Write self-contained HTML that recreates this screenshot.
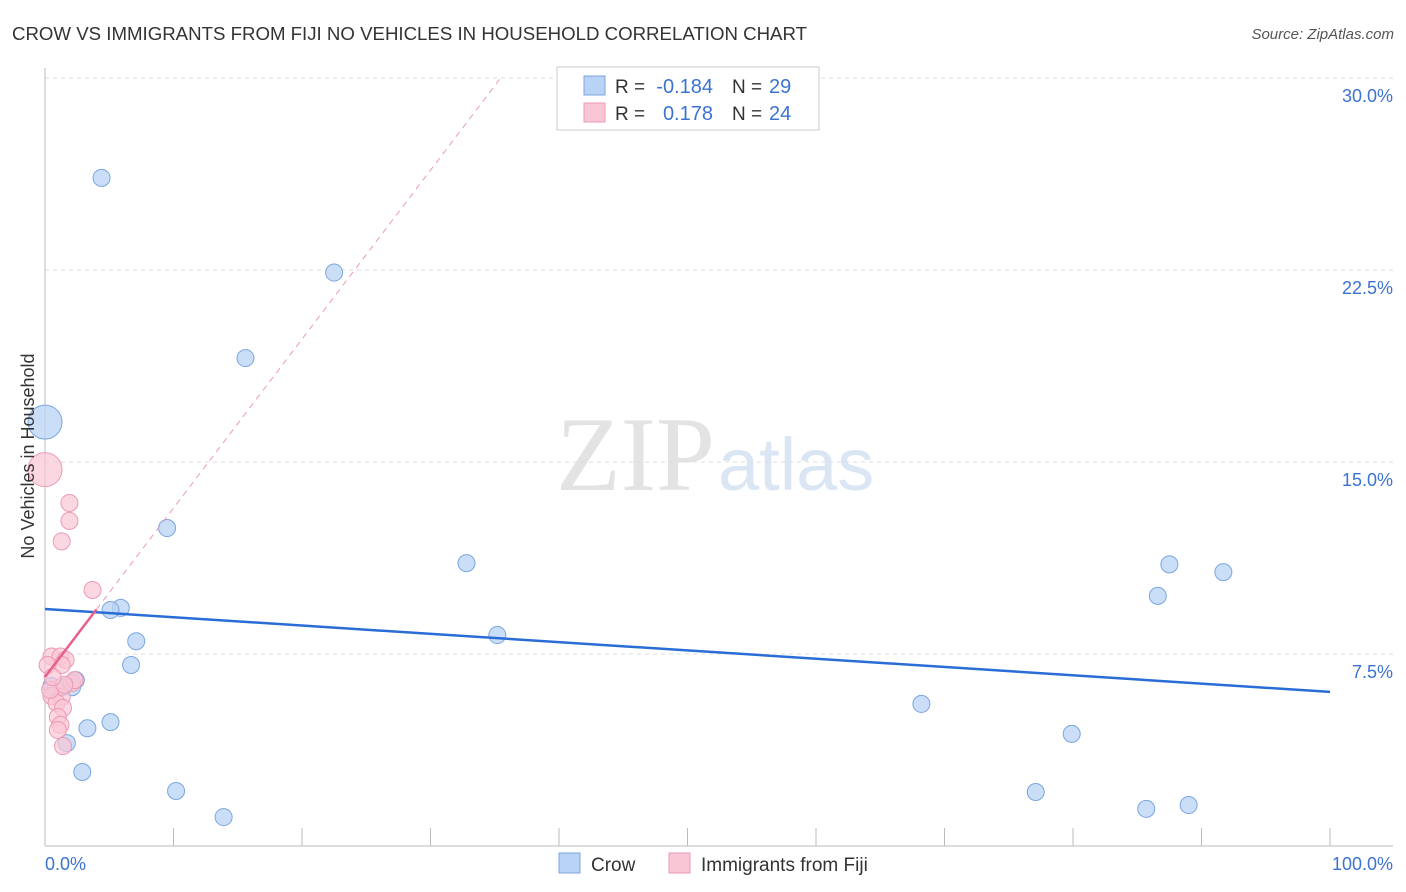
<!DOCTYPE html>
<html><head><meta charset="utf-8"><style>
body{margin:0;background:#fff;font-family:"Liberation Sans",sans-serif;}
svg{display:block}
</style></head><body>
<svg width="1406" height="892" id="chart">
<text x="12" y="40" font-size="18" fill="#333" textLength="795" lengthAdjust="spacingAndGlyphs">CROW VS IMMIGRANTS FROM FIJI NO VEHICLES IN HOUSEHOLD CORRELATION CHART</text>
<text x="1394" y="39" font-size="15" fill="#555" font-style="italic" text-anchor="end">Source: ZipAtlas.com</text>
<text x="715" y="490" font-size="106" fill="#e3e3e3" font-family="Liberation Serif,serif" text-anchor="end">ZIP</text>
<text x="718" y="490" font-size="74" fill="#dbe6f5">atlas</text>
<g id="grid"></g>
<g id="axes"></g>
<g id="marks"></g>
<text transform="translate(34,456) rotate(-90)" font-size="18" fill="#333" text-anchor="middle">No Vehicles in Household</text>
<text x="45" y="870" font-size="18" fill="#3b73d1">0.0%</text>
<text x="1393" y="870" font-size="18" fill="#3b73d1" text-anchor="end">100.0%</text>
<g>
<rect x="557" y="67" width="262" height="63" fill="#fff" stroke="#ccc"/>
<rect x="584" y="76" width="21" height="19" fill="#b8d3f5" stroke="#7aa6e0"/>
<rect x="584" y="103" width="21" height="19" fill="#f9c6d5" stroke="#ec9ab3"/>
<text x="615" y="93" font-size="19" fill="#333">R =</text>
<text x="713" y="93" font-size="20" fill="#3b73d1" text-anchor="end">-0.184</text>
<text x="732" y="93" font-size="19" fill="#333">N =</text>
<text x="769" y="93" font-size="20" fill="#3b73d1">29</text>
<text x="615" y="120" font-size="19" fill="#333">R =</text>
<text x="713" y="120" font-size="20" fill="#3b73d1" text-anchor="end">0.178</text>
<text x="732" y="120" font-size="19" fill="#333">N =</text>
<text x="769" y="120" font-size="20" fill="#3b73d1">24</text>
</g>
<g>
<rect x="559" y="853" width="21" height="20" fill="#b8d3f5" stroke="#7aa6e0"/>
<text x="591" y="871" font-size="19" fill="#333">Crow</text>
<rect x="669" y="853" width="21" height="20" fill="#f9c6d5" stroke="#ec9ab3"/>
<text x="701" y="871" font-size="19" fill="#333">Immigrants from Fiji</text>
</g>
</svg>
<script>
const yTicks=[7.5,15,22.5,30];
const yTickLabels=["7.5%","15.0%","22.5%","30.0%"];
const crowX=[4.4,22.5,15.6,0,9.5,32.8,5.9,5.1,7.1,35.2,6.7,2.4,2.1,3.3,5.1,1.7,2.9,10.2,13.9,68.2,79.9,77.1,85.7,89.0,87.5,86.6,91.7,0.5,1.3];
const crowY=[26.1,22.4,19.06,16.56,12.42,11.05,9.3,9.22,8.0,8.24,7.07,6.48,6.2,4.6,4.84,4.02,2.89,2.15,1.13,5.55,4.38,2.11,1.45,1.6,11.0,9.77,10.7,6.25,6.2];
const fijiX=[0,1.9,1.9,1.3,3.7,0.5,1.2,1.6,1.3,0.8,2.1,0.5,1.3,0.9,1.4,1.0,1.2,1.0,1.4,0.2,2.3,0.4,1.5,0.6];
const fijiY=[14.7,13.4,12.7,11.9,10.0,7.4,7.4,7.27,7.07,6.1,6.37,5.86,5.82,5.59,5.39,5.04,4.73,4.53,3.9,7.07,6.48,6.1,6.3,6.6];
const crowTrend=[9.26,6.02];
const fijiTrend=[6.6,0.66];
const X=v=>45+v/100*1285, Y=v=>846-v/7.5*192;
const NS="http://www.w3.org/2000/svg";
function mk(t,a,p){const e=document.createElementNS(NS,t);for(const k in a)e.setAttribute(k,a[k]);p.appendChild(e);return e;}
const grid=document.getElementById('grid'),axes=document.getElementById('axes'),marks=document.getElementById('marks');
yTicks.forEach((t,i)=>{
 const l=mk('line',{x1:45,x2:1393,y1:Y(t),y2:Y(t),stroke:'#ddd','stroke-dasharray':'4,4'},grid);
 
 
 const tx=mk('text',{x:1393,y:Y(t)+24,'font-size':18,fill:'#3b73d1','text-anchor':'end'},grid);
 tx.textContent=yTickLabels[i];
 
 
});
const ya=mk('line',{x1:45,x2:45,y1:68,y2:846,stroke:'#bbb'},axes);


const xa=mk('line',{x1:45,x2:1393,y1:846,y2:846,stroke:'#bbb'},axes);


for(let i=0;i<=10;i++){const t=mk('line',{x1:X(i*10),x2:X(i*10),y1:828,y2:846,stroke:'#bbb'},axes);
 
 }
crowX.forEach((x,i)=>{const big=x===0;const c=mk('circle',{cx:X(x),cy:Y(crowY[i]),r:big?17:8.5,fill:'#b8d3f5','fill-opacity':0.75,stroke:'#7aa6e0','stroke-width':1},marks);
 
 });
fijiX.forEach((x,i)=>{const big=x===0;const c=mk('circle',{cx:X(x),cy:Y(fijiY[i]),r:big?17:8.5,fill:'#f9c6d5','fill-opacity':0.7,stroke:'#ec9ab3','stroke-width':1},marks);
 
 });
const ct=mk('line',{x1:X(0),y1:Y(crowTrend[0]),x2:X(100),y2:Y(crowTrend[1]),stroke:'#2a6dd6','stroke-width':2.5},marks);


const xEnd=(30-fijiTrend[0])/fijiTrend[1];
const fd=mk('line',{x1:X(4),y1:Y(fijiTrend[0]+fijiTrend[1]*4),x2:X(xEnd),y2:Y(30),stroke:'#ec9ab3','stroke-width':1,'stroke-dasharray':'6,5'},marks);


const fs=mk('line',{x1:X(0),y1:Y(fijiTrend[0]),x2:X(4),y2:Y(fijiTrend[0]+fijiTrend[1]*4),stroke:'#e8608a','stroke-width':2.5},marks);


</script>
</body></html>
